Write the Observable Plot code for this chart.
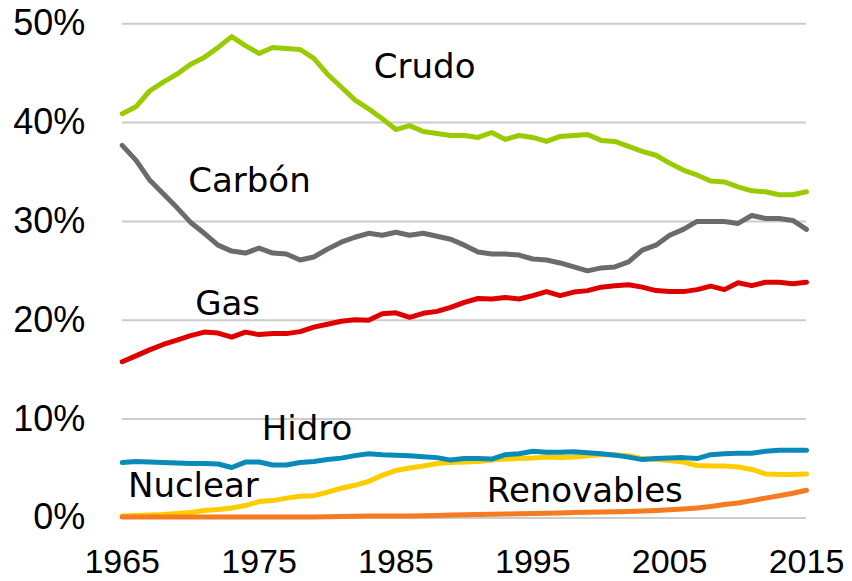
<!DOCTYPE html>
<html>
<head>
<meta charset="utf-8">
<script src="https://cdn.jsdelivr.net/npm/d3@7"></script>
<script src="https://cdn.jsdelivr.net/npm/@observablehq/plot@0.6"></script>
<style>
  html, body { margin: 0; padding: 0; background: #fff; }
  #chart svg { display: block; }
</style>
</head>
<body>
<div id="chart"></div>
<script>
const years = d3.range(1965, 2016);

const crudo = [40.9, 41.6, 43.2, 44.1, 44.9, 45.9, 46.6, 47.6, 48.7, 47.8,
  47.0, 47.6, 47.5, 47.4, 46.5, 44.9, 43.6, 42.3, 41.4, 40.4,
  39.3, 39.7, 39.1, 38.9, 38.7, 38.7, 38.5, 39.0, 38.3, 38.7,
  38.5, 38.1, 38.6, 38.7, 38.8, 38.2, 38.1, 37.6, 37.1, 36.7,
  35.9, 35.2, 34.7, 34.1, 34.0, 33.5, 33.1, 33.0, 32.7, 32.7, 33.0];

const carbon = [37.7, 36.2, 34.2, 32.8, 31.4, 29.9, 28.8, 27.6, 27.0, 26.8,
  27.3, 26.8, 26.7, 26.1, 26.4, 27.2, 27.9, 28.4, 28.8, 28.6,
  28.9, 28.6, 28.8, 28.5, 28.2, 27.6, 26.9, 26.7, 26.7, 26.6,
  26.2, 26.1, 25.8, 25.4, 25.0, 25.3, 25.4, 25.9, 27.1, 27.6,
  28.6, 29.2, 30.0, 30.0, 30.0, 29.8, 30.6, 30.3, 30.3, 30.1, 29.2];

const gas = [15.8, 16.4, 17.0, 17.55, 18.0, 18.45, 18.8, 18.7, 18.3, 18.8,
  18.55, 18.65, 18.65, 18.85, 19.3, 19.6, 19.9, 20.05, 20.0, 20.65,
  20.75, 20.3, 20.7, 20.9, 21.3, 21.8, 22.2, 22.15, 22.3, 22.15,
  22.5, 22.9, 22.5, 22.85, 23.0, 23.35, 23.5, 23.6, 23.35, 23.0,
  22.9, 22.9, 23.1, 23.45, 23.1, 23.8, 23.5, 23.85, 23.85, 23.7, 23.85];

const hidro = [5.6, 5.7, 5.65, 5.6, 5.55, 5.5, 5.5, 5.45, 5.1, 5.65,
  5.65, 5.35, 5.35, 5.6, 5.7, 5.9, 6.05, 6.3, 6.5, 6.4,
  6.35, 6.3, 6.2, 6.1, 5.85, 6.0, 6.0, 5.95, 6.4, 6.5,
  6.75, 6.65, 6.65, 6.7, 6.6, 6.5, 6.35, 6.15, 5.9, 6.0,
  6.05, 6.1, 6.0, 6.4, 6.5, 6.55, 6.55, 6.75, 6.85, 6.85, 6.85];

const nuclear = [0.2, 0.25, 0.3, 0.35, 0.45, 0.55, 0.75, 0.85, 1.0, 1.25,
  1.65, 1.75, 2.0, 2.2, 2.25, 2.6, 3.0, 3.3, 3.7, 4.3,
  4.8, 5.05, 5.25, 5.5, 5.6, 5.65, 5.7, 5.85, 5.95, 6.0,
  6.05, 6.15, 6.1, 6.15, 6.3, 6.4, 6.4, 6.3, 6.0, 5.9,
  5.8, 5.65, 5.3, 5.25, 5.25, 5.15, 4.9, 4.45, 4.4, 4.4, 4.45];

const renovables = [0.1, 0.1, 0.1, 0.1, 0.1, 0.1, 0.1, 0.1, 0.1, 0.1,
  0.1, 0.1, 0.1, 0.1, 0.1, 0.12, 0.15, 0.17, 0.18, 0.2,
  0.2, 0.2, 0.22, 0.25, 0.3, 0.32, 0.35, 0.38, 0.4, 0.42,
  0.45, 0.48, 0.5, 0.55, 0.58, 0.6, 0.62, 0.65, 0.7, 0.75,
  0.82, 0.9, 1.0, 1.15, 1.35, 1.5, 1.75, 2.0, 2.25, 2.5, 2.8];

// drawing order: bottom to top
const seriesNames = ["Nuclear", "Renovables", "Hidro", "Gas", "Carbón", "Crudo"];
const seriesValues = [nuclear, renovables, hidro, gas, carbon, crudo];
const seriesColors = ["#ffcc00", "#f47b20", "#0a8ab8", "#e00000", "#6b6b6b", "#99cc00"];

const xTicks = [1965, 1975, 1985, 1995, 2005, 2015];
const yTicks = [0, 10, 20, 30, 40, 50];

// label anchors (year, percent)
const labelNames = ["Crudo", "Carbón", "Gas", "Hidro", "Nuclear", "Renovables"];
const labelYears = [1987.1, 1974.3, 1972.7, 1978.5, 1970.2, 1998.8];
const labelValues = [45.6, 34.1, 21.65, 9.0, 3.26, 2.75];

const rows = [];
seriesNames.forEach((name, i) => {
  seriesValues[i].forEach((v, j) => rows.push({name, year: years[j], value: v}));
});
const labels = labelNames.map((t, i) => ({t, x: labelYears[i], y: labelValues[i]}));

const chart = Plot.plot({
  width: 852,
  height: 581,
  marginLeft: 121.7,
  marginRight: 46,
  marginTop: 23.3,
  marginBottom: 63.6,
  style: {fontFamily: "'Liberation Sans', Arial, sans-serif", background: "#fff", color: "#000"},
  x: {domain: [1965, 2015]},
  y: {domain: [0, 50]},
  color: {domain: seriesNames, range: seriesColors},
  marks: [
    Plot.gridY(yTicks, {stroke: "#cccccc", strokeOpacity: 1, strokeWidth: 2}),
    Plot.axisY(yTicks, {tickSize: 0, tickPadding: 37, fontSize: 36, tickFormat: d => d + "%", label: null}),
    Plot.axisX(xTicks, {tickSize: 0, tickPadding: 31, fontSize: 34, tickFormat: d => String(d), label: null}),
    Plot.line(rows, {x: "year", y: "value", z: "name", stroke: "name", strokeWidth: 5,
      strokeLinejoin: "round", strokeLinecap: "round"}),
    Plot.text(labels, {x: "x", y: "y", text: "t", fontSize: 34, fill: "#000",
      fontFamily: "'DejaVu Sans', sans-serif", textAnchor: "middle", lineAnchor: "middle"})
  ]
});
document.getElementById("chart").appendChild(chart);
</script>
</body>
</html>
